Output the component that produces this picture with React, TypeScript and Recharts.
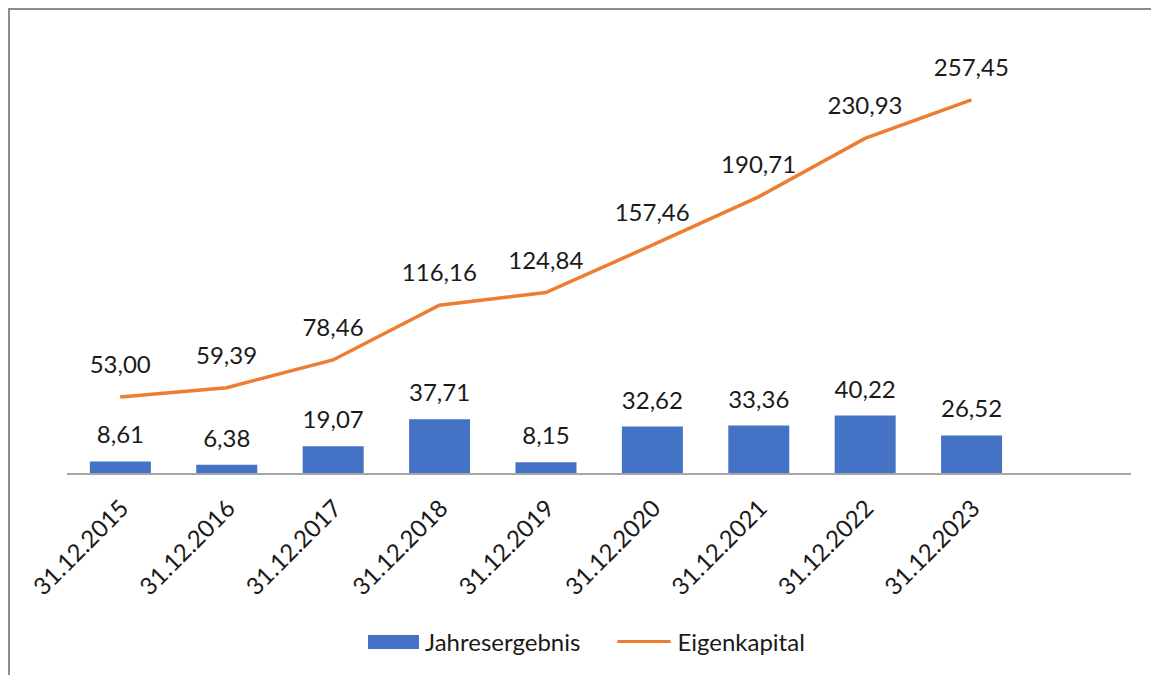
import React from "react";
import { ComposedChart, Bar, Line, XAxis, YAxis, LabelList } from "recharts";

const categories = [
  "31.12.2015", "31.12.2016", "31.12.2017", "31.12.2018", "31.12.2019",
  "31.12.2020", "31.12.2021", "31.12.2022", "31.12.2023", "",
];
const jahresergebnis = [8.61, 6.38, 19.07, 37.71, 8.15, 32.62, 33.36, 40.22, 26.52, null];
const eigenkapital = [53.0, 59.39, 78.46, 116.16, 124.84, 157.46, 190.71, 230.93, 257.45, null];

const seriesNames = ["Jahresergebnis", "Eigenkapital"];
const barColor = "#4472C4";
const lineColor = "#ED7D31";
const font = "Lato, 'Open Sans', sans-serif";

const data = categories.map((c, i) => ({
  name: c,
  bar: jahresergebnis[i],
  line: eigenkapital[i],
}));

const fmt = (v: any) =>
  v === null || v === undefined ? "" : Number(v).toFixed(2).replace(".", ",");

const Tick = (props: any) => {
  const { x, y, payload } = props;
  if (!payload || !payload.value) return null;
  const ax = x + 10;
  const ay = y + 34;
  return (
    <text
      x={ax}
      y={ay}
      transform={`rotate(-45 ${ax} ${ay})`}
      textAnchor="end"
      fontSize={24}
      fontFamily={font}
      fill="#1a1a1a"
    >
      {payload.value}
    </text>
  );
};

export default function App() {
  return (
    <div
      style={{
        position: "relative",
        width: 1151,
        height: 667,
        boxSizing: "border-box",
        borderTop: "2px solid #8c8c8c",
        borderLeft: "2px solid #8c8c8c",
        background: "#fff",
      }}
    >
      <ComposedChart
        width={1149}
        height={665}
        data={data}
        margin={{ top: 28, right: 28, left: 57, bottom: 0 }}
        barCategoryGap="21.5%"
      >
        <YAxis hide domain={[0, 300]} />
        <XAxis
          dataKey="name"
          height={201}
          interval={0}
          tickLine={false}
          tickSize={0}
          tick={<Tick />}
          axisLine={{ stroke: "#a6a6a6", strokeWidth: 2 }}
        />
        <Bar dataKey="bar" fill={barColor} isAnimationActive={false}>
          <LabelList
            dataKey="bar"
            position="top"
            offset={18}
            formatter={fmt}
            fontSize={24}
            fontFamily={font}
            fill="#1a1a1a"
          />
        </Bar>
        <Line
          dataKey="line"
          stroke={lineColor}
          strokeWidth={3.5}
          dot={false}
          isAnimationActive={false}
        >
          <LabelList
            dataKey="line"
            position="top"
            offset={24}
            formatter={fmt}
            fontSize={24}
            fontFamily={font}
            fill="#1a1a1a"
          />
        </Line>
      </ComposedChart>
      <div
        style={{
          position: "absolute",
          left: 358,
          top: 617,
          display: "flex",
          alignItems: "center",
          fontFamily: font,
          fontSize: 24,
          color: "#1a1a1a",
        }}
      >
        <span style={{ display: "inline-block", width: 51, height: 14, background: barColor, marginRight: 6 }} />
        <span>{seriesNames[0]}</span>
        <span style={{ display: "inline-block", width: 54, height: 3, background: lineColor, marginLeft: 37, marginRight: 6, borderRadius: 2 }} />
        <span>{seriesNames[1]}</span>
      </div>
    </div>
  );
}
